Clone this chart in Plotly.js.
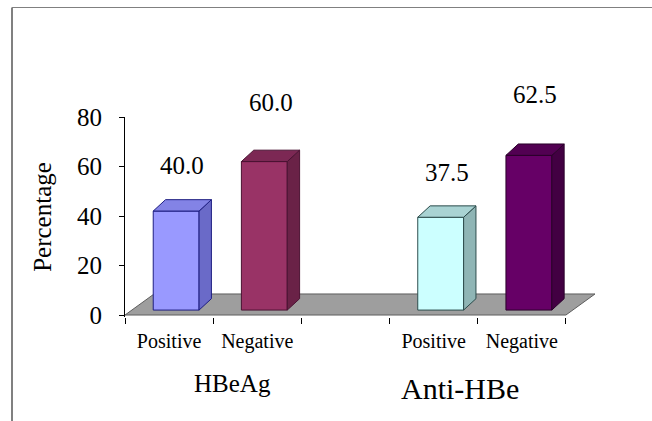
<!DOCTYPE html>
<html>
<head>
<meta charset="utf-8">
<script src="https://cdn.plot.ly/plotly-3.0.1.min.js"></script>
<style>
  html, body { margin: 0; padding: 0; background: #fff; overflow: hidden; }
  #chart { width: 652px; height: 421px; }
</style>
</head>
<body>
<div id="chart"></div>
<script>
// ---- data ----
var groups = ["HBeAg", "Anti-HBe"];
var categories = ["Positive", "Negative", "Positive", "Negative"];
var values = [40.0, 60.0, 37.5, 62.5];
var valueLabels = ["40.0", "60.0", "37.5", "62.5"];
var yTicks = [0, 20, 40, 60, 80];

// ---- styling ----
var positions = [0, 1, 3, 4];          // slot 2 is an empty gap
var groupCenters = [0.5, 3.5];
var frontColors = ["#9999FF", "#993366", "#CCFFFF", "#660066"];
var sideColors  = ["#6A6AC8", "#6A2247", "#8FB5B5", "#420042"];
var topColors   = ["#8383E6", "#7C2854", "#A9D3D3", "#520052"];
var edgeColors  = ["#1E1E82", "#4A1232", "#2C4C4C", "#2A002A"];

var W = 652, H = 421;
var M = { l: 125, r: 42, t: 117, b: 104 };
var baseOff = 2;      // bars sit slightly back on the floor
var barW = 0.52, barShift = 0.08;
var ddx = 0.14, ddy = 4.6;   // depth of each bar
var floorDx = 0.33, floorDy = 8.5;
var xMin = -0.5, xMax = 4.5;
var xRange = [-0.5, 5.0];
var yRange = [-0.8, 80];

function toPaperY(y) { return (y - yRange[0]) / (yRange[1] - yRange[0]); }
function pxToPaperX(px) { return (px - M.l) / (W - M.l - M.r); }
function pxToPaperY(py) { return (H - M.b - py) / (H - M.t - M.b); }

var traces = [];
// front faces
traces.push({
  type: "bar",
  x: positions.map(function (p) { return p + barShift; }),
  y: values,
  base: values.map(function () { return baseOff; }),
  width: barW,
  marker: { color: frontColors, line: { color: edgeColors, width: 1 } },
  hoverinfo: "skip", showlegend: false
});
// side and top faces
values.forEach(function (v, i) {
  var xl = positions[i] + barShift - barW / 2;
  var xr = positions[i] + barShift + barW / 2;
  var b = baseOff, t = baseOff + v;
  traces.push({
    type: "scatter", mode: "lines", fill: "toself",
    x: [xr, xr + ddx, xr + ddx, xr, xr],
    y: [b, b + ddy, t + ddy, t, b],
    fillcolor: sideColors[i], line: { color: edgeColors[i], width: 1 },
    hoverinfo: "skip", showlegend: false
  });
  traces.push({
    type: "scatter", mode: "lines", fill: "toself",
    x: [xl, xl + ddx, xr + ddx, xr, xl],
    y: [t, t + ddy, t + ddy, t, t],
    fillcolor: topColors[i], line: { color: edgeColors[i], width: 1 },
    hoverinfo: "skip", showlegend: false
  });
});

var annotations = values.map(function (v, i) {
  return {
    x: positions[i] + barShift + ddx / 2, y: toPaperY(v * 1.27 + 9.8),
    xref: "x", yref: "paper", text: valueLabels[i], showarrow: false,
    font: { size: 25, color: "#000" }, yanchor: "middle"
  };
});
annotations.push({
  x: groupCenters[0], y: pxToPaperY(383), xref: "x", yref: "paper", xshift: 19,
  text: groups[0], showarrow: false, font: { size: 25, color: "#000" }, yanchor: "middle"
});
annotations.push({
  x: groupCenters[1], y: pxToPaperY(388), xref: "x", yref: "paper", xshift: -18,
  text: groups[1], showarrow: false, font: { size: 30, color: "#000" }, yanchor: "middle"
});

var floorPath = "M " + xMin + ",0 L " + (xMin + floorDx) + "," + floorDy +
  " L " + (xMax + floorDx) + "," + floorDy + " L " + xMax + ",0 Z";

var frameX = pxToPaperX(12), frameTop = pxToPaperY(7.5);
var frameRight = pxToPaperX(W + 5), frameBottom = pxToPaperY(H + 5);

var layout = {
  width: W, height: H,
  margin: M,
  paper_bgcolor: "#fff", plot_bgcolor: "rgba(0,0,0,0)",
  font: { family: "Liberation Serif, Times New Roman, serif", color: "#000" },
  bargap: 0,
  xaxis: {
    range: xRange, showgrid: false, zeroline: false, showline: false,
    tickmode: "array", tickvals: positions, ticktext: categories,
    ticks: "", tickfont: { size: 20 }, ticklabelstandoff: 10,
    minor: { tickmode: "linear", tick0: -0.5, dtick: 1, ticks: "outside", ticklen: 6, tickcolor: "#000", showgrid: false }
  },
  yaxis: {
    range: yRange, showgrid: false, zeroline: false,
    showline: true, linecolor: "#000", linewidth: 1,
    tickmode: "array", tickvals: yTicks, ticks: "outside", ticklen: 5, tickcolor: "#000",
    tickfont: { size: 25 }, ticklabelstandoff: 12,
    title: { text: "Percentage", font: { size: 25 }, standoff: 18 }
  },
  shapes: [
    {
      type: "path", path: floorPath, xref: "x", yref: "y", layer: "below",
      fillcolor: "#9E9E9E", line: { color: "#5E5E5E", width: 1 }
    },
    { type: "line", xref: "paper", yref: "paper", x0: frameX, x1: frameX, y0: frameTop, y1: frameBottom,
      line: { color: "#808080", width: 2 } },
    { type: "line", xref: "paper", yref: "paper", x0: frameX, x1: frameRight, y0: frameTop, y1: frameTop,
      line: { color: "#808080", width: 1 } }
  ],
  annotations: annotations
};

Plotly.newPlot("chart", traces, layout, { staticPlot: true, displayModeBar: false });
</script>
</body>
</html>
